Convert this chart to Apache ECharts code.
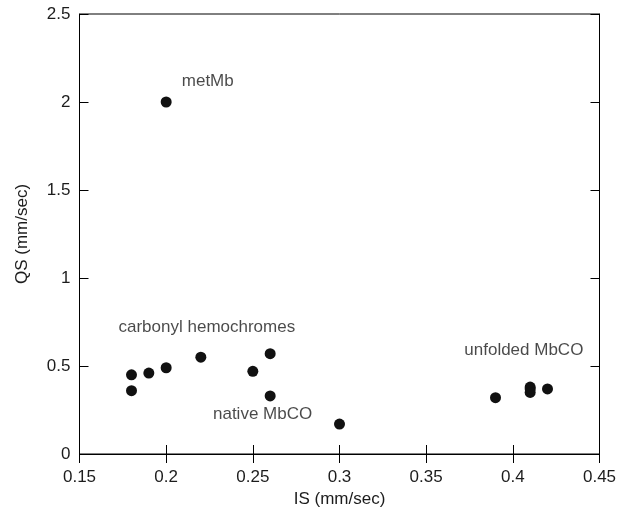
<!DOCTYPE html>
<html>
<head>
<meta charset="utf-8">
<script src="https://cdn.jsdelivr.net/npm/echarts@6/dist/echarts.min.js"></script>
<style>
  html, body { margin: 0; padding: 0; background: #fff; }
  #chart { width: 623px; height: 514px; }
</style>
</head>
<body>
<div id="chart"></div>
<script>
// IS / QS values
const isValues = [0.2, 0.18, 0.18, 0.19, 0.2, 0.22, 0.25, 0.26, 0.26, 0.3, 0.39, 0.41, 0.41, 0.41, 0.42];
const qsValues = [2.0, 0.45, 0.36, 0.46, 0.49, 0.55, 0.47, 0.57, 0.33, 0.17, 0.32, 0.38, 0.37, 0.35, 0.37];

// group labels and where they sit (data coords of the text's left edge)
const groupNames = ['metMb', 'carbonyl hemochromes', 'native MbCO', 'unfolded MbCO'];
const groupX = [0.209, 0.1725, 0.227, 0.372];
const groupY = [2.12, 0.72, 0.223, 0.588];

const xTicks = ['0.15', '0.2', '0.25', '0.3', '0.35', '0.4', '0.45'];
const yTicks = ['0', '0.5', '1', '1.5', '2', '2.5'];

const font = 'Liberation Sans, Arial, Helvetica, sans-serif';
const ink = '#000';
const textInk = '#1c1c1c';

const chart = echarts.init(document.getElementById('chart'));

const points = isValues.map((x, i) => [x, qsValues[i]]);
const notes = groupNames.map((n, i) => ({ name: n, value: [groupX[i], groupY[i]] }));

function xAxisOf(pos, showLabels) {
    return {
        type: 'value',
        position: pos,
        min: +xTicks[0],
        max: +xTicks[xTicks.length - 1],
        interval: 0.05,
        axisLine: { show: true, lineStyle: { color: ink } },
        axisTick: { show: true, inside: true, length: 9, lineStyle: { color: ink } },
        axisLabel: {
            show: showLabels, margin: 15, color: textInk, fontSize: 17, fontFamily: font,
            formatter: v => String(+v.toFixed(2))
        },
        splitLine: { show: false }
    };
}
function yAxisOf(pos, showLabels) {
    return {
        type: 'value',
        position: pos,
        min: +yTicks[0],
        max: +yTicks[yTicks.length - 1],
        interval: 0.5,
        axisLine: { show: true, lineStyle: { color: ink } },
        axisTick: { show: true, inside: true, length: 9, lineStyle: { color: ink } },
        axisLabel: {
            show: showLabels, margin: 9, color: textInk, fontSize: 17, fontFamily: font,
            formatter: v => String(+v.toFixed(1))
        },
        splitLine: { show: false }
    };
}

const xBottom = xAxisOf('bottom', true);
xBottom.name = 'IS (mm/sec)';
xBottom.nameLocation = 'middle';
xBottom.nameGap = 35;
xBottom.nameTextStyle = { color: textInk, fontSize: 17, fontFamily: font };

const yLeft = yAxisOf('left', true);
yLeft.name = 'QS (mm/sec)';
yLeft.nameLocation = 'middle';
yLeft.nameGap = 49;
yLeft.nameTextStyle = { color: textInk, fontSize: 17, fontFamily: font };

chart.setOption({
    animation: false,
    backgroundColor: '#fff',
    grid: {
        left: 79.5, right: 23.5, top: 14, bottom: 60,
        show: true, borderColor: ink, borderWidth: 1, backgroundColor: 'transparent'
    },
    xAxis: [xBottom, xAxisOf('top', false)],
    yAxis: [yLeft, yAxisOf('right', false)],
    series: [{
        type: 'scatter',
        data: points,
        symbol: 'circle',
        symbolSize: 11,
        itemStyle: { color: '#111', opacity: 1 }
    }, {
        type: 'scatter',
        data: notes,
        symbolSize: 0,
        silent: true,
        label: {
            show: true,
            position: 'right',
            distance: 0,
            formatter: p => p.name,
            color: textInk,
            fontSize: 17,
            fontFamily: font
        }
    }]
});
</script>
</body>
</html>
